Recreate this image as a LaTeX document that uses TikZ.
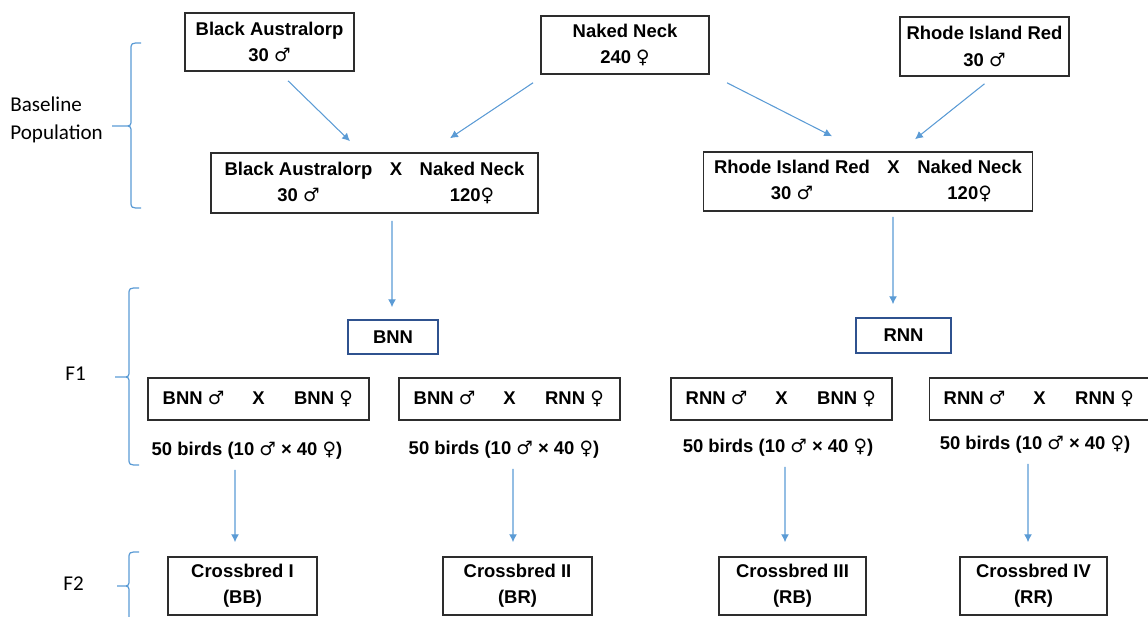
\documentclass[tikz,border=0pt]{standalone}
\usepackage{fontspec}
\setmainfont{Liberation Sans}
\newfontfamily\calibri{Carlito}
\newfontfamily\symboles{DejaVu Sans}
\usetikzlibrary{arrows.meta}
\definecolor{bleuclair}{RGB}{91,155,213}
\definecolor{bleufonce}{RGB}{47,82,143}
\definecolor{gristrait}{RGB}{45,45,45}
\newcommand{\croix}[2]{\makebox[1.8cm]{#1}\makebox[0.8cm]{X}\makebox[1.8cm]{#2}}
\newcommand{\masc}{{\symboles\bfseries ♂}}
\newcommand{\fem}{{\symboles\bfseries ♀}}

\begin{document}
\begin{tikzpicture}[x=0.02cm, y=-0.02cm]
	\tikzset{boite/.style={draw=gristrait, line width=0.9pt, inner sep=0pt, align=center, font=\fontsize{10.5}{15}\selectfont\bfseries},
		boitebleue/.style={boite, draw=bleufonce},
		texte/.style={font=\fontsize{10.5}{15}\selectfont\bfseries, inner sep=1pt},
		etiquette/.style={font=\calibri\fontsize{12}{15.5}\selectfont, align=left, anchor=west, inner sep=0pt},
		fleche/.style={>={Latex[length=4.5pt,width=4.5pt]}, ->, color=bleuclair, line width=0.6pt},
		accolade/.style={draw=bleuclair, line width=0.7pt}}
	\useasboundingbox (0,0) rectangle (1148,617);

	% population de base
	\node[boite, minimum width=3.38cm, minimum height=1.16cm] (ba) at (269.5,42) {Black Australorp\\30 \masc};
	\node[boite, minimum width=3.36cm, minimum height=1.16cm] (nn) at (625,45) {Naked Neck\\240 \fem};
	\node[boite, minimum width=3.38cm, minimum height=1.18cm] (rir) at (984.5,46.5) {Rhode Island Red\\30 \masc};
	\node[boite, minimum width=6.54cm, minimum height=1.2cm] (banx) at (374.5,183) {\begin{tabular}{c@{\hspace{10pt}}c@{\hspace{10pt}}c}Black Australorp & X & Naked Neck\\ 30 \masc & & 120\fem\end{tabular}};
	\node[boite, minimum width=6.56cm, minimum height=1.18cm] (rirx) at (868,181.5) {\begin{tabular}{c@{\hspace{10pt}}c@{\hspace{10pt}}c}Rhode Island Red & X & Naked Neck\\ 30 \masc & & 120\fem\end{tabular}};

	% F1
	\node[boitebleue, minimum width=1.8cm, minimum height=0.68cm] (bnn) at (393,337) {BNN};
	\node[boitebleue, minimum width=1.9cm, minimum height=0.7cm] (rnn) at (903.5,335.5) {RNN};
	\node[boite, minimum width=4.42cm, minimum height=0.84cm] (c1) at (258.5,399) {\croix{BNN \masc}{BNN \fem}};
	\node[boite, minimum width=4.42cm, minimum height=0.84cm] (c2) at (509.5,399) {\croix{BNN \masc}{RNN \fem}};
	\node[boite, minimum width=4.42cm, minimum height=0.84cm] (c3) at (781.5,399) {\croix{RNN \masc}{BNN \fem}};
	\node[boite, minimum width=4.26cm, minimum height=0.84cm] (c4) at (1039.5,399) {\croix{RNN \masc}{RNN \fem}};
	\node[texte] (n1) at (247,451) {50 birds (10 \masc{} × 40 \fem)};
	\node[texte] (n2) at (504,450) {50 birds (10 \masc{} × 40 \fem)};
	\node[texte] (n3) at (778,448) {50 birds (10 \masc{} × 40 \fem)};
	\node[texte] (n4) at (1035,445) {50 birds (10 \masc{} × 40 \fem)};

	% F2
	\node[boite, minimum width=2.98cm, minimum height=1.16cm] (cb1) at (242.5,586) {Crossbred I\\(BB)};
	\node[boite, minimum width=2.98cm, minimum height=1.16cm] (cb2) at (517.5,586) {Crossbred II\\(BR)};
	\node[boite, minimum width=2.94cm, minimum height=1.16cm] (cb3) at (792.5,586) {Crossbred III\\(RB)};
	\node[boite, minimum width=2.94cm, minimum height=1.16cm] (cb4) at (1033.5,586) {Crossbred IV\\(RR)};

	\node[etiquette] (base) at (10,120) {Baseline\\Population};
	\node[etiquette] (f1) at (65,374) {F1};
	\node[etiquette] (f2) at (63,584) {F2};

	\draw[fleche] ([shift={(0.37cm,-0.18cm)}]ba.south) -- ([shift={(-0.49cm,0.22cm)}]banx.north);
	\draw[fleche] ([shift={(-1.84cm,-0.16cm)}]nn.south) -- ([shift={(1.51cm,0.28cm)}]banx.north);
	\draw[fleche] ([shift={(2.04cm,-0.16cm)}]nn.south) -- ([shift={(-0.72cm,0.3cm)}]rirx.north);
	\draw[fleche] ([shift={(0cm,-0.14cm)}]rir.south) -- ([shift={(0.94cm,0.24cm)}]rirx.north);
	\draw[fleche] ([shift={(0.35cm,-0.14cm)}]banx.south) -- ([shift={(-0.02cm,0.24cm)}]bnn.north);
	\draw[fleche] ([shift={(0.5cm,-0.1cm)}]rirx.south) -- ([shift={(-0.21cm,0.26cm)}]rnn.north);
	\draw[fleche] ([shift={(-0.24cm,-0.16cm)}]n1.south) -- ([shift={(-0.15cm,0.28cm)}]cb1.north);
	\draw[fleche] ([shift={(0.18cm,-0.16cm)}]n2.south) -- ([shift={(-0.09cm,0.28cm)}]cb2.north);
	\draw[fleche] ([shift={(0.14cm,-0.16cm)}]n3.south) -- ([shift={(-0.15cm,0.28cm)}]cb3.north);
	\draw[fleche] ([shift={(-0.14cm,-0.16cm)}]n4.south) -- ([shift={(-0.11cm,0.28cm)}]cb4.north);

	% accolades
	\draw[accolade] (141,43) .. controls (131,43) .. (131,50) -- (131,119) .. controls (131,126) .. (124,126) -- (112,126) -- (124,126) .. controls (131,126) .. (131,133) -- (131,201) .. controls (131,208) .. (141,208);
	\draw[accolade] (139,288) .. controls (129,288) .. (129,295) -- (129,370) .. controls (129,377) .. (122,377) -- (115,377) -- (122,377) .. controls (129,377) .. (129,384) -- (129,458) .. controls (129,465) .. (139,465);
	\draw[accolade] (139,552) .. controls (129,552) .. (129,559) -- (129,579) .. controls (129,586) .. (122,586) -- (117,586) -- (122,586) .. controls (129,586) .. (129,593) -- (129,640);
\end{tikzpicture}
\end{document}
